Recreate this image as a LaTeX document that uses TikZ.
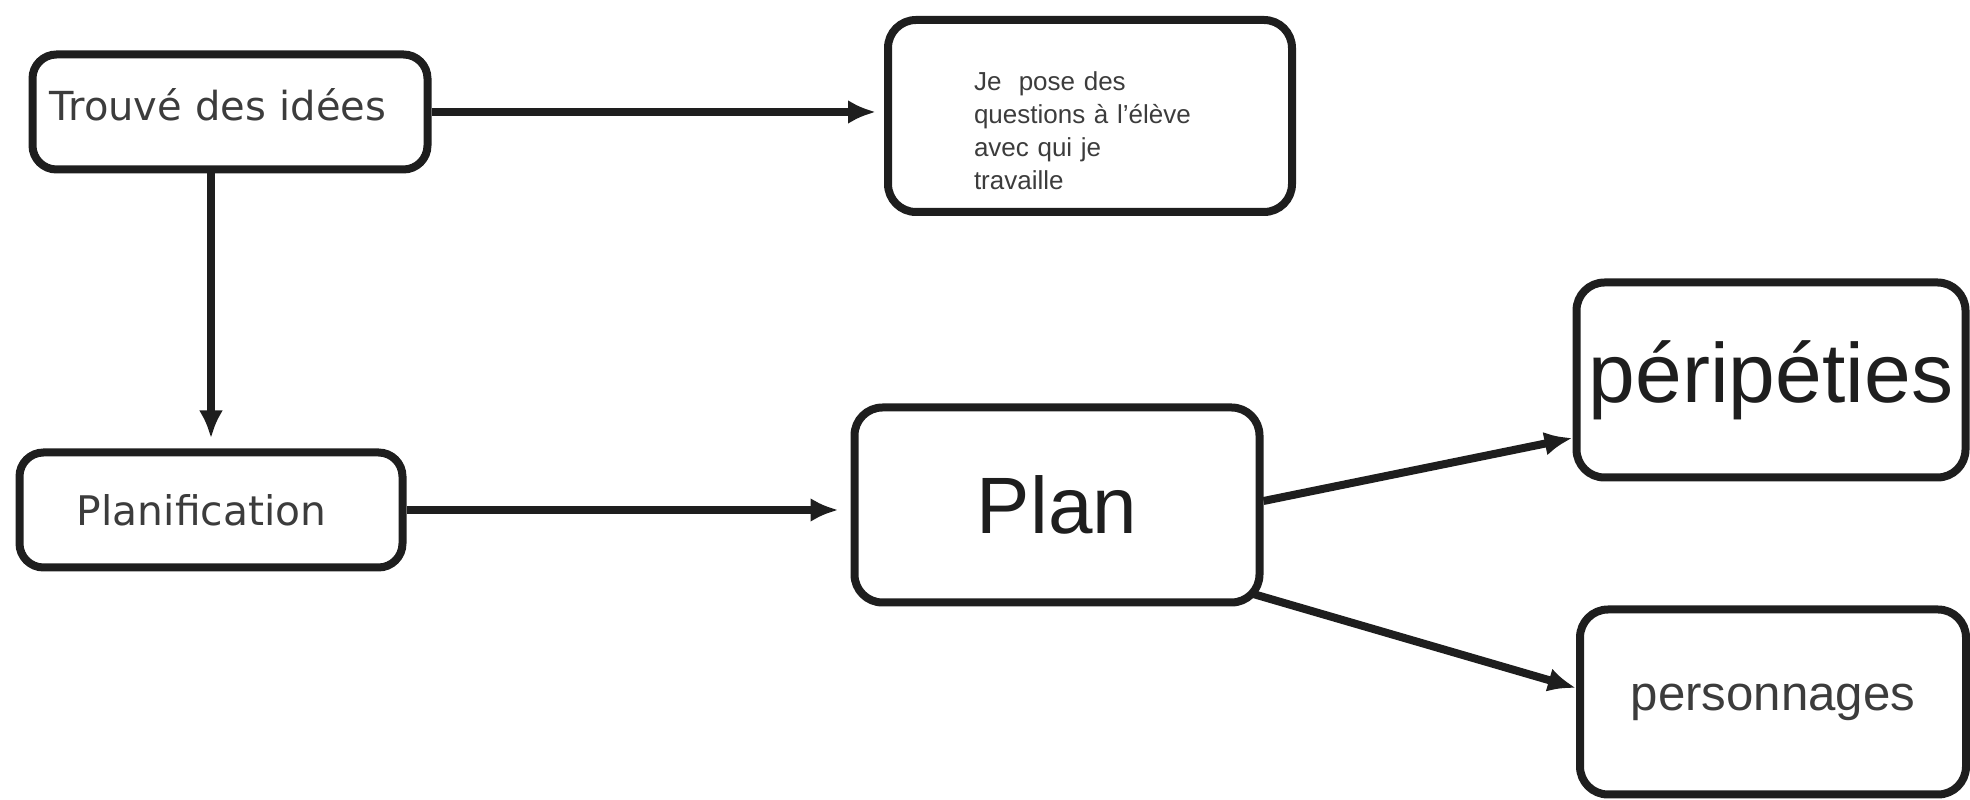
\documentclass[tikz,border=0pt]{standalone}
\usepackage{fontspec}
\setmainfont{Liberation Sans}
\newfontfamily\comicfont{DejaVu Sans}
\usetikzlibrary{arrows.meta}
\definecolor{ink}{HTML}{1E1E1E}
\definecolor{greytext}{HTML}{3C3C3C}
\begin{document}
\begin{tikzpicture}[x=0.25pt, y=-0.25pt, >={Latex[length=7pt,width=6pt]},
  box/.style={draw=ink, line width=2pt, rounded corners=7pt, inner sep=0pt},
  link/.style={->, draw=ink, line width=2pt}]
\useasboundingbox (0,0) rectangle (1970,800);
\node[box, rounded corners=6pt, minimum width=98.75pt, minimum height=28.75pt, align=left, text width=90pt, font={\comicfont\fontsize{10pt}{12pt}\selectfont}, text=greytext] (ti) at (230,112) {\rule[-3.5pt]{0pt}{0pt}Trouvé des idées};
\node[box, minimum width=101pt, minimum height=48pt, align=left, text width=58pt, font={\fontsize{6.5pt}{8.25pt}\selectfont}, text=greytext] (qu) at (1090,116) {\rule{0pt}{12.2pt}Je~ pose des\\questions à l'élève\\avec qui je\\travaille};
\node[box, rounded corners=6pt, minimum width=95.75pt, minimum height=28.75pt, align=left, text width=67pt, font={\comicfont\fontsize{10.2pt}{12pt}\selectfont}, text=greytext] (pf) at (211,510) {Planification};
\node[box, minimum width=101.25pt, minimum height=48.75pt, font={\fontsize{20pt}{23pt}\selectfont}, text=ink] (pl) at (1057,505) {Plan};
\node[box, minimum width=97.25pt, minimum height=48.75pt, font={\fontsize{21pt}{24pt}\selectfont}, text=ink] (pe) at (1771,380) {péripéties};
\node[box, minimum width=96.5pt, minimum height=46.25pt, font={\fontsize{12.3pt}{14pt}\selectfont}, text=greytext] (ps) at (1773,702) {personnages};
\draw[link, shorten >=2pt] (ti.east) -- (ti.east -| qu.west);
\draw[link, shorten >=2.5pt] (pf.north |- ti.south) -- (pf.north);
\draw[link, shorten >=3pt] (pf.east) -- (pf.east -| pl.west);
\draw[link] ([yshift=1pt]pl.east) -- ([yshift=-14.5pt]pe.west);
\draw[link] ([shift={(-3pt,3.25pt)}]pl.south east) -- ([yshift=3.5pt]ps.west);
\end{tikzpicture}
\end{document}
